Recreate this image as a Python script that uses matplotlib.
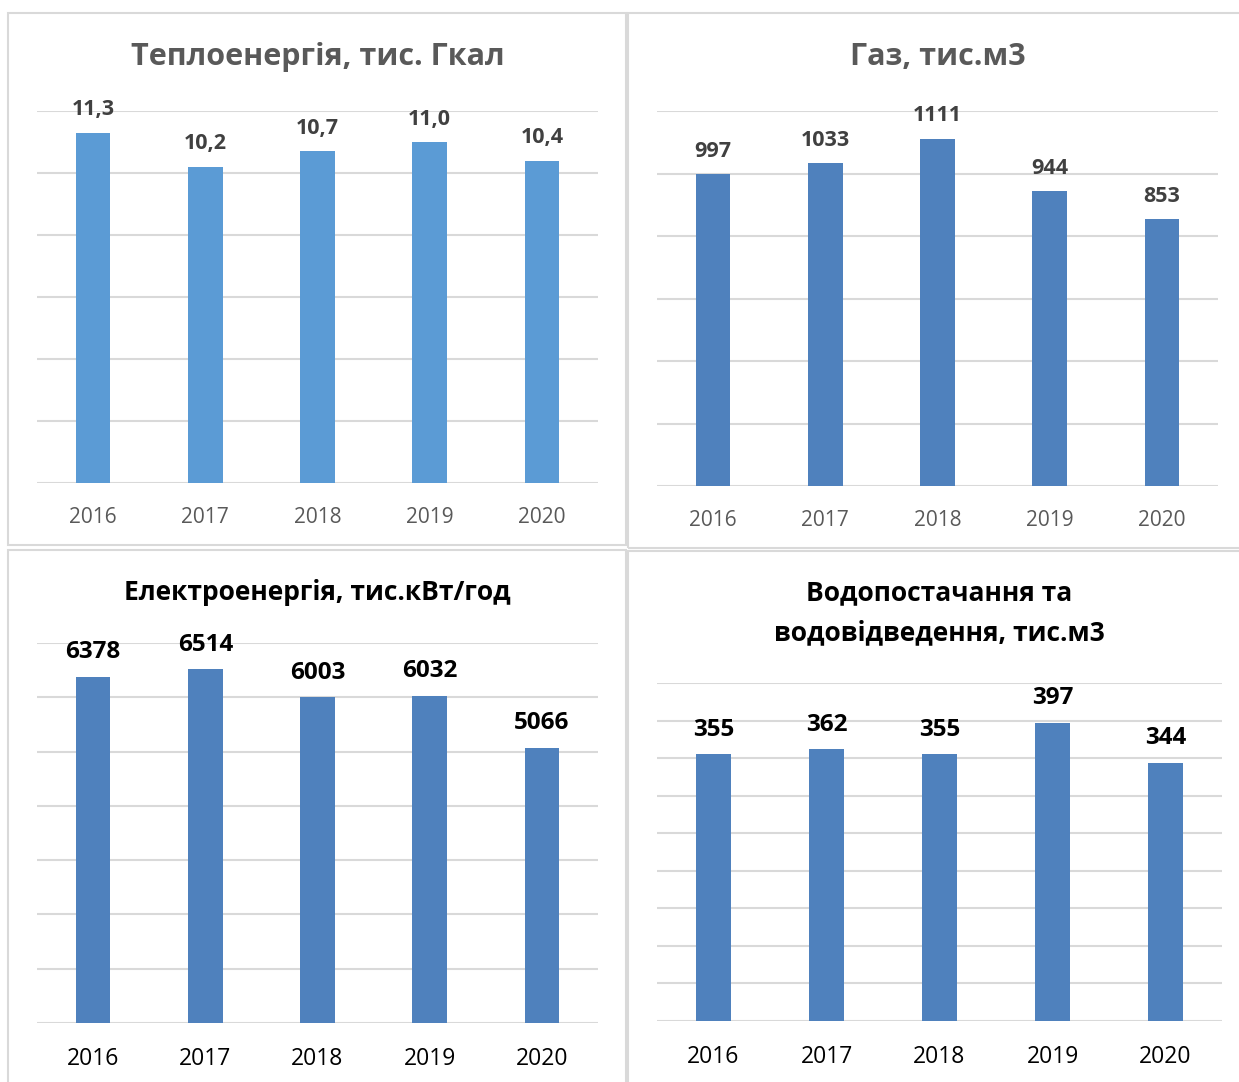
import matplotlib
matplotlib.use("Agg")
import matplotlib.pyplot as plt
from matplotlib.patches import Rectangle

plt.rcParams['font.family'] = ['Open Sans', 'DejaVu Sans']

years = ['2016', '2017', '2018', '2019', '2020']
heat = [11.3, 10.2, 10.7, 11.0, 10.4]
gas = [997, 1033, 1111, 944, 853]
elec = [6378, 6514, 6003, 6032, 5066]
water = [355, 362, 355, 397, 344]

W, H = 1239, 1082
fig = plt.figure(figsize=(W / 100, H / 100), dpi=100)


def px_axes(x0, y0, x1, y1):
    return fig.add_axes([x0 / W, 1 - y1 / H, (x1 - x0) / W, (y1 - y0) / H])


# panel borders
for (x0, y0, x1, y1) in [(8, 13, 626, 545), (628, 13, 1245, 548), (8, 550, 626, 1090), (628, 551, 1245, 1090)]:
    fig.add_artist(Rectangle((x0 / W, 1 - y1 / H), (x1 - x0) / W, (y1 - y0) / H,
                             transform=fig.transFigure, fill=False, edgecolor='#D9D9D9', lw=1.5))

panels = [
    dict(box=(37, 111, 598, 483), vals=heat, ymax=12, step=2, color='#5B9BD5',
         title='Теплоенергія, тис. Гкал', ty=57, tc='#595959', tfs=22,
         fmt=lambda v: f'{v:.1f}'.replace('.', ','), lc='#404040', lfs=15.5, xc='#595959', xfs=15),
    dict(box=(657, 111, 1218, 486), vals=gas, ymax=1200, step=200, color='#4F81BD',
         title='Газ, тис.м3', ty=57, tc='#595959', tfs=22,
         fmt=lambda v: f'{v:d}', lc='#404040', lfs=15.5, xc='#595959', xfs=15),
    dict(box=(37, 643, 598, 1023), vals=elec, ymax=7000, step=1000, color='#4F81BD',
         title='Електроенергія, тис.кВт/год', ty=593, tc='black', tfs=19,
         fmt=lambda v: f'{v:d}', lc='black', lfs=17.5, xc='black', xfs=16.5),
    dict(box=(657, 683, 1222, 1021), vals=water, ymax=450, step=50, color='#4F81BD',
         title='Водопостачання та\nводовідведення, тис.м3', ty=613, tc='black', tfs=19,
         fmt=lambda v: f'{v:d}', lc='black', lfs=17.5, xc='black', xfs=16.5),
]

for p in panels:
    x0, y0, x1, y1 = p['box']
    ax = px_axes(x0, y0, x1, y1)
    xs = range(len(years))
    ax.bar(xs, p['vals'], width=0.31, color=p['color'], zorder=3)
    ax.set_xlim(-0.5, len(years) - 0.5)
    ax.set_ylim(0, p['ymax'])
    ticks = list(range(0, p['ymax'] + 1, p['step']))
    ax.set_yticks(ticks)
    ax.yaxis.grid(True, color='#D9D9D9', lw=1.5, zorder=0)
    ax.tick_params(axis='y', left=False, labelleft=False)
    ax.tick_params(axis='x', bottom=False, labelsize=p['xfs'], labelcolor=p['xc'], pad=14)
    ax.set_xticks(list(xs))
    ax.set_xticklabels(years)
    for s in ax.spines.values():
        s.set_visible(False)
    for i, v in enumerate(p['vals']):
        ax.annotate(p['fmt'](v), (i, v), xytext=(0, 9), textcoords='offset points',
                    ha='center', va='bottom', fontsize=p['lfs'], fontweight='bold', color=p['lc'])
    fig.text(((x0 + x1) / 2) / W, 1 - p['ty'] / H, p['title'], ha='center', va='center',
             fontsize=p['tfs'], fontweight='bold', color=p['tc'], linespacing=1.6)

fig.savefig('out.png', dpi=100, facecolor='white')
